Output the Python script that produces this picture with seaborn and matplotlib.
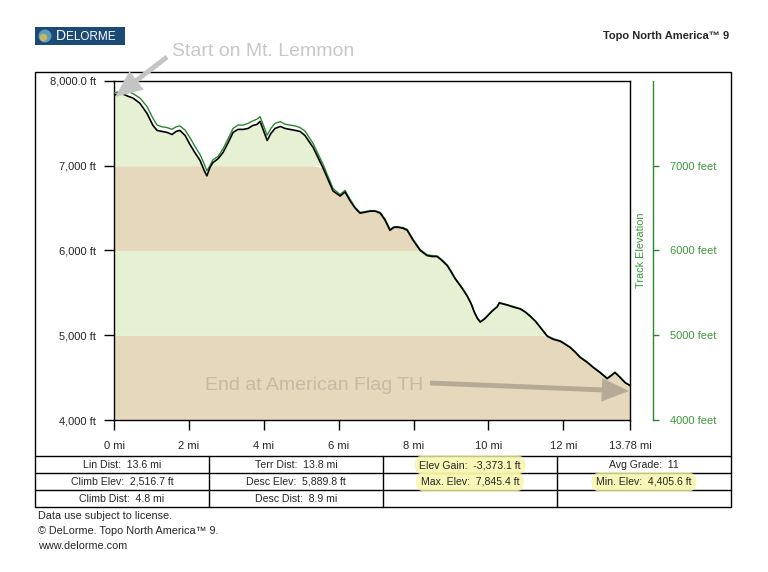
import numpy as np
import pandas as pd
import seaborn as sns
import matplotlib.pyplot as plt
from matplotlib.patches import Rectangle, Circle

# profile: distance (mi), ground elevation (ft), GPS track elevation (ft)
dist_mi = [0.00, 0.11, 0.24, 0.37, 0.51, 0.69, 0.88, 1.04, 1.15, 1.28, 1.42, 1.55, 1.66, 1.76, 1.90,
           2.03, 2.16, 2.30, 2.40, 2.48, 2.56, 2.64, 2.78, 2.91, 3.05, 3.18, 3.31, 3.45, 3.58, 3.71,
           3.82, 3.90, 3.98, 4.09, 4.19, 4.30, 4.44, 4.57, 4.70, 4.84, 4.97, 5.10, 5.32, 5.58, 5.85,
           6.04, 6.17, 6.31, 6.44, 6.57, 6.71, 6.84, 6.97, 7.11, 7.24, 7.37, 7.48, 7.59, 7.72, 7.83,
           7.99, 8.18, 8.36, 8.50, 8.63, 8.76, 8.90, 9.00, 9.11, 9.27, 9.43, 9.54, 9.62, 9.70, 9.78,
           9.89, 9.97, 10.10, 10.23, 10.29, 10.39, 10.50, 10.66, 10.85, 10.98, 11.11, 11.25, 11.38,
           11.57, 11.73, 11.92, 12.05, 12.18, 12.32, 12.45, 12.64, 12.80, 12.98, 13.17, 13.28, 13.38,
           13.52, 13.65, 13.78]
elev_ft = [7833, 7845, 7845, 7821, 7798, 7738, 7619, 7476, 7417, 7405, 7393, 7369, 7405, 7417, 7357,
           7250, 7155, 7060, 6952, 6881, 6976, 7036, 7083, 7155, 7274, 7393, 7429, 7429, 7440, 7476,
           7488, 7524, 7429, 7298, 7381, 7440, 7464, 7440, 7429, 7417, 7405, 7357, 7214, 6976, 6702,
           6643, 6690, 6583, 6500, 6440, 6452, 6464, 6464, 6440, 6357, 6238, 6274, 6274, 6262, 6238,
           6119, 6000, 5940, 5929, 5929, 5881, 5821, 5750, 5667, 5571, 5464, 5369, 5274, 5202, 5155,
           5190, 5226, 5286, 5333, 5381, 5369, 5357, 5333, 5310, 5274, 5226, 5167, 5095,
           4988, 4952, 4929, 4893, 4857, 4798, 4738, 4679, 4619, 4560, 4488, 4524, 4560,
           4500, 4440, 4406]
track_ft = [7860, 7870, 7880, 7880, 7850, 7800, 7700, 7560, 7480, 7460, 7450, 7430, 7460, 7470, 7420,
            7330, 7230, 7130, 7030, 6940, 7000, 7070, 7110, 7200, 7320, 7440, 7480, 7480, 7500, 7530,
            7550, 7580, 7490, 7360, 7440, 7500, 7520, 7490, 7480, 7470, 7450, 7410, 7260, 7020, 6730,
            6660, 6710, 6600, 6510, 6450, 6460, 6470, 6470, 6450, 6370, 6250, 6280, 6280, 6270, 6250,
            6130, 6010, 5950, 5940, 5935, 5890, 5830, 5760, 5675, 5580, 5470, 5375, 5280, 5210, 5160,
            5195, 5230, 5290, 5340, 5385, 5375, 5360, 5340, 5315, 5280, 5230, 5170, 5100,
            4995, 4960, 4935, 4900, 4860, 4805, 4745, 4685, 4625, 4565, 4495, 4530, 4565,
            4505, 4445, 4410]

band_edges = [4000, 5000, 6000, 7000, 8000]
band_colors = ['#e6d8bd', '#e6f0d3', '#e6d8bd', '#e6f0d3']

x_ticks = [0, 2, 4, 6, 8, 10, 12, 13.78]
x_labels = ['0 mi', '2 mi', '4 mi', '6 mi', '8 mi', '10 mi', '12 mi', '13.78 mi']
y_ticks = [4000, 5000, 6000, 7000, 8000]
y_labels = ['4,000 ft', '5,000 ft', '6,000 ft', '7,000 ft', '8,000.0 ft']
r_ticks = [4000, 5000, 6000, 7000]
r_labels = ['4000 feet', '5000 feet', '6000 feet', '7000 feet']

stats_rows = [
    ['Lin Dist:  13.6 mi', 'Terr Dist:  13.8 mi', 'Elev Gain:  -3,373.1 ft', 'Avg Grade:  11'],
    ['Climb Elev:  2,516.7 ft', 'Desc Elev:  5,889.8 ft', 'Max. Elev:  7,845.4 ft', 'Min. Elev:  4,405.6 ft'],
    ['Climb Dist:  4.8 mi', 'Desc Dist:  8.9 mi', '', ''],
]
highlighted = ['Elev Gain:  -3,373.1 ft', 'Max. Elev:  7,845.4 ft', 'Min. Elev:  4,405.6 ft']
footer = ['Data use subject to license.', '\u00a9 DeLorme. Topo North America\u2122 9.', 'www.delorme.com']

df = pd.DataFrame({'mi': dist_mi, 'ground': elev_ft, 'track': track_ft})

sns.set_style('white')
plt.rcParams['font.family'] = ['Liberation Sans', 'DejaVu Sans']

GREEN = '#2b872b'
W, H = 768, 572
fig = plt.figure(figsize=(7.68, 5.72), dpi=100)
ax = fig.add_axes([114 / W, 1 - 420 / H, 516 / W, 339 / H])

elev = np.array(elev_ft, dtype=float)
for lo, hi, c in zip(band_edges[:-1], band_edges[1:], band_colors):
    ax.fill_between(df['mi'], lo, np.clip(elev, lo, hi), color=c, lw=0, zorder=1)

sns.lineplot(data=df, x='mi', y='track', color=GREEN, lw=1.0, ax=ax, zorder=3)
sns.lineplot(data=df, x='mi', y='ground', color='black', lw=1.2, ax=ax, zorder=4)

ax.set_xlim(0, 13.78)
ax.set_ylim(4000, 8000)
ax.set_xlabel('')
ax.set_ylabel('')
ax.set_xticks(x_ticks, x_labels)
ax.set_yticks(y_ticks, y_labels)
ax.tick_params(axis='both', direction='out', length=7, width=1, color='black',
               labelsize=8, pad=6, left=True, bottom=True)
ax.tick_params(axis='x', pad=8)
for s in ax.spines.values():
    s.set_visible(True)
    s.set_color('black')
    s.set_linewidth(1)

ax2 = ax.twinx()
ax2.set_ylim(4000, 8000)
for s in ['left', 'top', 'bottom']:
    ax2.spines[s].set_visible(False)
ax2.spines['right'].set_position(('axes', 1 + 23 / 516))
ax2.spines['right'].set_color(GREEN)
ax2.spines['right'].set_linewidth(1)
ax2.set_yticks(r_ticks, r_labels)
ax2.tick_params(axis='y', direction='out', right=True, length=4, width=1, color=GREEN,
                labelcolor='#3a9a3a', labelsize=8, pad=8)
ax2.set_ylabel('')

# overlay in pixel coordinates for frame, table and notes
ov = fig.add_axes([0, 0, 1, 1], zorder=5)
ov.set_xlim(0, W)
ov.set_ylim(H, 0)
ov.axis('off')

ov.add_patch(Rectangle((35, 72), 696, 435, fill=False, ec='black', lw=1))
for y in [456, 473, 490]:
    ov.plot([35, 731], [y, y], color='black', lw=1)
for x in [209, 383, 557]:
    ov.plot([x, x], [456, 507], color='black', lw=1)

col_c = [122, 296, 470, 644]
row_c = [465, 482, 499]
for r, row in enumerate(stats_rows):
    for c, txt in enumerate(row):
        if not txt:
            continue
        kw = {}
        if txt in highlighted:
            kw['bbox'] = dict(boxstyle='round,pad=0.45,rounding_size=0.9', fc='#f7f5a6', ec='none', alpha=0.8)
        ov.text(col_c[c], row_c[r], txt, ha='center', va='center', fontsize=7.6, **kw)

for i, line in enumerate(footer):
    ov.text(38, 516 + i * 15, line, ha='left', va='center', fontsize=7.8)

ov.text(641, 250, 'Track Elevation', rotation=90, ha='center', va='center', fontsize=7.8, color='#3a9a3a')
ov.text(729, 36, 'Topo North America\u2122 9', ha='right', va='center', fontsize=8, fontweight='bold')

# logo
ov.add_patch(Rectangle((35, 27), 90, 18, fc='#1c4a77', ec='none'))
ov.add_patch(Circle((45, 36), 6.5, fc='#5c9cb8', ec='none'))
ov.add_patch(Circle((43.5, 37.5), 3.8, fc='#c9b564', ec='none'))
ov.text(56, 36.5, 'D', color='white', fontsize=10, ha='left', va='center')
ov.text(66, 37, 'ELORME', color='white', fontsize=8.5, ha='left', va='center')

# notes
ov.text(172, 52, 'Start on Mt. Lemmon', fontsize=14, color='#c8c8c8', ha='left', va='center')
ov.annotate('', xy=(115, 97), xytext=(167, 57),
            arrowprops=dict(arrowstyle='simple,head_width=1.2,head_length=1.4,tail_width=0.25',
                            fc='#c4c4c4', ec='none', mutation_scale=14, shrinkA=0, shrinkB=0))
ov.text(205, 385, 'End at American Flag TH', fontsize=14, color='#c6baa4', ha='left', va='center')
ov.annotate('', xy=(629, 391), xytext=(430, 383),
            arrowprops=dict(arrowstyle='simple,head_width=1.2,head_length=1.4,tail_width=0.25',
                            fc='#b5aa95', ec='none', mutation_scale=14, shrinkA=0, shrinkB=0))

fig.savefig('out.png', dpi=100)
